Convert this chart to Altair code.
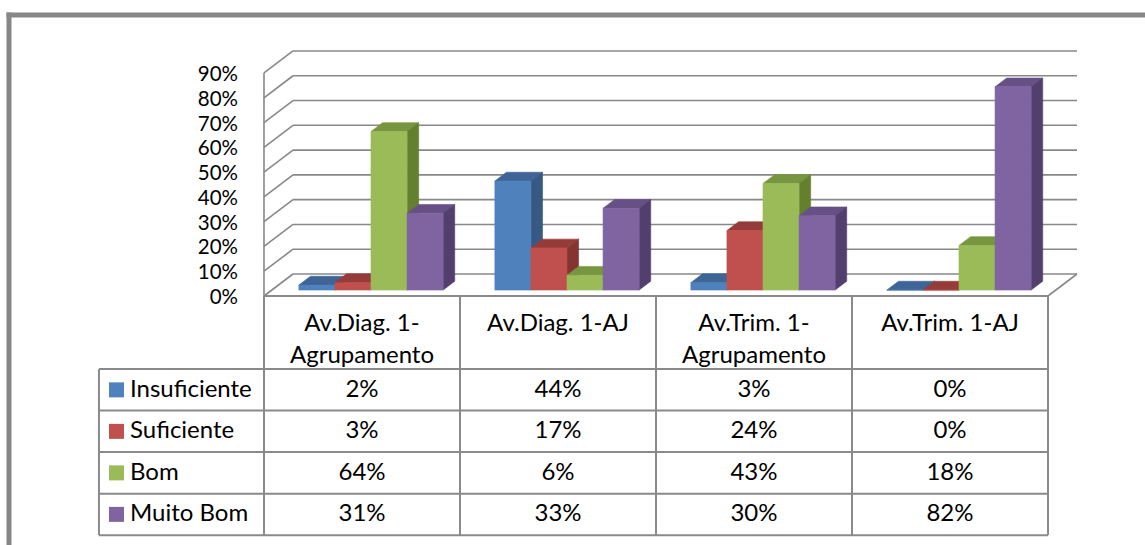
import altair as alt
import pandas as pd

# ---- data -------------------------------------------------------------
category_lines = [
    ["Av.Diag. 1-", "Agrupamento"],
    ["Av.Diag. 1-AJ"],
    ["Av.Trim. 1-", "Agrupamento"],
    ["Av.Trim. 1-AJ"],
]
categories = ["".join(lines) for lines in category_lines]
series = ["Insuficiente", "Suficiente", "Bom", "Muito Bom"]

insuficiente = [2, 44, 3, 0]
suficiente = [3, 17, 24, 0]
bom = [64, 6, 43, 18]
muito_bom = [31, 33, 30, 82]
values = [insuficiente, suficiente, bom, muito_bom]

y_ticks = [0, 10, 20, 30, 40, 50, 60, 70, 80, 90]

# ---- styling ----------------------------------------------------------
front_colors = ["#4F81BD", "#C0504D", "#9BBB59", "#8064A2"]
top_colors = ["#3E6595", "#953C3A", "#78953F", "#665086"]
side_colors = ["#375A85", "#843532", "#64802F", "#533F6D"]
grid_color = "#888888"
table_color = "#8A8A8A"
frame_color = "#878787"
FONT = "Lato"
FONT_SIZE = 24
TICK_FONT_SIZE = 20.5

# canvas
W, H = 1136, 530
PAD_L, PAD_T = 9, 15

# x in category units (one unit per column), y in percent points
X_DOMAIN = [-1.301, 4.495]
Y_DOMAIN = [-100.48, 113.40]

# pseudo-3D projection: full depth of the box shifts by these amounts
DEPTH_X = 0.148
DEPTH_Y = 8.88

# bar placement inside a category slot
BAR_START = 0.138
BAR_W = 0.184
BAR_D0, BAR_D1 = 0.27, 0.67

# data table geometry (percent units below the floor)
HEADER_H = 29.5
ROW_H = 16.75
LEGEND_LEFT = -0.842
SWATCH_X = -0.7526
LABEL_X = -0.6837

xs = alt.Scale(domain=X_DOMAIN, nice=False, zero=False)
ys = alt.Scale(domain=Y_DOMAIN, nice=False, zero=False)

# ---- bar faces (top, side, front) as filled areas ---------------------
rows = []
ox0, oy0 = BAR_D0 * DEPTH_X, BAR_D0 * DEPTH_Y
ox1, oy1 = BAR_D1 * DEPTH_X, BAR_D1 * DEPTH_Y
for i in range(len(categories)):
    for j in range(len(series)):
        v = values[j][i]
        x0 = i + BAR_START + j * BAR_W
        x1 = x0 + BAR_W
        key = f"{i}{j}"
        # top face
        for x, lo, hi in [
            (x0 + ox0, v + oy0, v + oy0),
            (x0 + ox1, v + oy0, v + oy1),
            (x1 + ox0, v + oy0, v + oy1),
            (x1 + ox1, v + oy1, v + oy1),
        ]:
            rows.append(dict(poly=key + "0", x=x, lo=lo, hi=hi, fill=top_colors[j]))
        # right side face
        for x, lo, hi in [(x1 + ox0, oy0, v + oy0), (x1 + ox1, oy1, v + oy1)]:
            rows.append(dict(poly=key + "1", x=x, lo=lo, hi=hi, fill=side_colors[j]))
        # front face
        for x in (x0 + ox0, x1 + ox0):
            rows.append(dict(poly=key + "2", x=x, lo=oy0, hi=v + oy0, fill=front_colors[j]))
faces = pd.DataFrame(rows)

bars = alt.Chart(faces).mark_area(interpolate="linear", strokeWidth=0.6).encode(
    x=alt.X("x:Q", scale=xs, axis=None),
    y=alt.Y("hi:Q", scale=ys, axis=None),
    y2="lo:Q",
    detail="poly:N",
    fill=alt.Fill("fill:N", scale=None),
    stroke=alt.Stroke("fill:N", scale=None),
)

# ---- walls and floor ---------------------------------------------------
n = len(categories)
wall = []
for t in y_ticks:
    wall.append(dict(x=DEPTH_X, x2=n + DEPTH_X, y=t + DEPTH_Y, y2=t + DEPTH_Y))
    wall.append(dict(x=0, x2=DEPTH_X, y=t, y2=t + DEPTH_Y))
wall.append(dict(x=0, x2=0, y=0, y2=y_ticks[-1]))
wall.append(dict(x=n, x2=n + DEPTH_X, y=0, y2=DEPTH_Y))
walls = alt.Chart(pd.DataFrame(wall)).mark_rule(color=grid_color, strokeWidth=1.6).encode(
    x=alt.X("x:Q", scale=xs, axis=None),
    x2="x2:Q",
    y=alt.Y("y:Q", scale=ys, axis=None),
    y2="y2:Q",
)

tick_df = pd.DataFrame({"v": y_ticks, "label": [f"{t}%" for t in y_ticks], "x": 0})
tick_labels = alt.Chart(tick_df).mark_text(
    align="right", baseline="middle", dx=-26, dy=2, font=FONT, fontSize=TICK_FONT_SIZE,
    color="black",
).encode(
    x=alt.X("x:Q", scale=xs, axis=None),
    y=alt.Y("v:Q", scale=ys, axis=None),
    text="label:N",
)

# ---- data table ----------------------------------------------------------
bottom = -(HEADER_H + ROW_H * len(series))
tl = [dict(x=0, x2=n, y=0, y2=0)]
for k in range(len(series) + 1):
    yy = -(HEADER_H + ROW_H * k)
    tl.append(dict(x=LEGEND_LEFT, x2=n, y=yy, y2=yy))
for c in range(n + 1):
    tl.append(dict(x=c, x2=c, y=0, y2=bottom))
tl.append(dict(x=LEGEND_LEFT, x2=LEGEND_LEFT, y=-HEADER_H, y2=bottom))
table_lines = alt.Chart(pd.DataFrame(tl)).mark_rule(color=table_color, strokeWidth=2).encode(
    x=alt.X("x:Q", scale=xs, axis=None),
    x2="x2:Q",
    y=alt.Y("y:Q", scale=ys, axis=None),
    y2="y2:Q",
)

header_rows = []
for i, lines in enumerate(category_lines):
    for li, txt in enumerate(lines):
        header_rows.append(dict(x=i + 0.5, y=-11.3 - 12.9 * li, text=txt))
headers = alt.Chart(pd.DataFrame(header_rows)).mark_text(
    align="center", baseline="middle", font=FONT, fontSize=FONT_SIZE, color="black"
).encode(
    x=alt.X("x:Q", scale=xs, axis=None),
    y=alt.Y("y:Q", scale=ys, axis=None),
    text="text:N",
)

cell_rows = []
legend_rows = []
for j, name in enumerate(series):
    yc = -(HEADER_H + ROW_H * (j + 0.5))
    legend_rows.append(dict(x=SWATCH_X, lx=LABEL_X, y=yc, text=name, fill=front_colors[j]))
    for i in range(n):
        cell_rows.append(dict(x=i + 0.5, y=yc, text=f"{values[j][i]}%"))
cells = alt.Chart(pd.DataFrame(cell_rows)).mark_text(
    align="center", baseline="middle", font=FONT, fontSize=FONT_SIZE, color="black"
).encode(
    x=alt.X("x:Q", scale=xs, axis=None),
    y=alt.Y("y:Q", scale=ys, axis=None),
    text="text:N",
)

legend_df = pd.DataFrame(legend_rows)
swatches = alt.Chart(legend_df).mark_square(size=225, opacity=1).encode(
    x=alt.X("x:Q", scale=xs, axis=None),
    y=alt.Y("y:Q", scale=ys, axis=None),
    fill=alt.Fill("fill:N", scale=None),
)
legend_labels = alt.Chart(legend_df).mark_text(
    align="left", baseline="middle", font=FONT, fontSize=FONT_SIZE, color="black"
).encode(
    x=alt.X("lx:Q", scale=xs, axis=None),
    y=alt.Y("y:Q", scale=ys, axis=None),
    text="text:N",
)

# ---- outer frame (top and left edges of the chart area) ------------------
frame_left = alt.Chart(pd.DataFrame({"k": [0]})).mark_rule(
    color=frame_color, strokeWidth=5, strokeCap="square"
).encode(x=alt.value(0), y=alt.value(0), y2=alt.value(H))
frame_top = alt.Chart(pd.DataFrame({"k": [0]})).mark_rule(
    color=frame_color, strokeWidth=5, strokeCap="square"
).encode(x=alt.value(0), x2=alt.value(W), y=alt.value(0))

chart = alt.layer(
    walls, bars, table_lines, tick_labels, headers, cells, swatches, legend_labels,
    frame_left, frame_top,
).properties(
    width=W,
    height=H,
    autosize=alt.AutoSizeParams(type="none"),
    padding={"left": PAD_L, "top": PAD_T, "right": 0, "bottom": 0},
    background="white",
).configure_view(stroke="transparent")

chart.save("out.html", embed_options={"renderer": "svg", "actions": False})
